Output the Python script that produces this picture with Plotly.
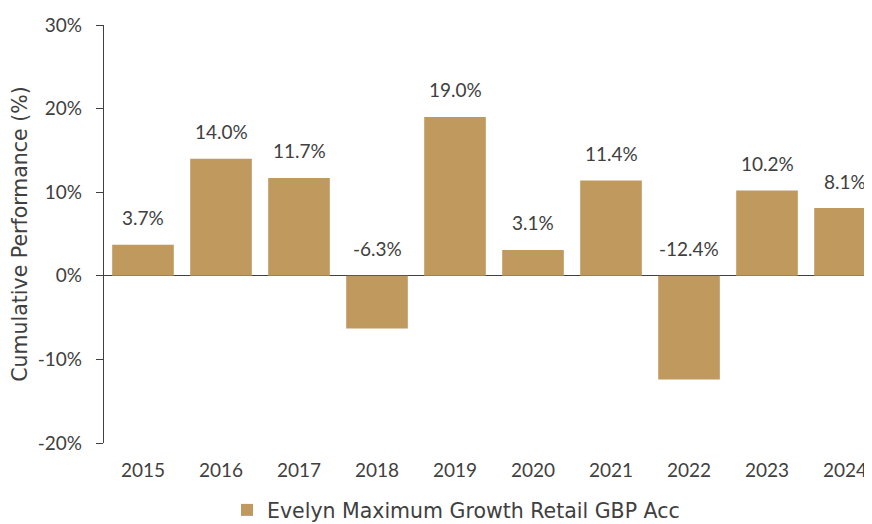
import plotly.graph_objects as go

years = ["2015", "2016", "2017", "2018", "2019", "2020", "2021", "2022", "2023", "2024"]
values = [3.7, 14.0, 11.7, -6.3, 19.0, 3.1, 11.4, -12.4, 10.2, 8.1]
series_name = "Evelyn Maximum Growth Retail GBP Acc"
y_ticks = [-20, -10, 0, 10, 20, 30]

bar_color = "#BF995E"
text_color = "#404040"
num_font = "Lato, 'Open Sans', sans-serif"
word_font = "'DejaVu Sans', sans-serif"

fig = go.Figure()
fig.add_trace(go.Bar(
    x=years, y=values, name=series_name,
    marker=dict(color=bar_color, line=dict(width=0)),
    width=0.79, showlegend=True,
))

for i, v in enumerate(values):
    fig.add_annotation(
        x=i, y=max(v, 0), xref="x", yref="y", text=f"{v:.1f}%", showarrow=False,
        xanchor="center", yanchor="middle", yshift=27,
        font=dict(size=19, color=text_color, family=num_font),
    )

fig.update_layout(
    width=864, height=516,
    margin=dict(l=96, r=0, t=17, b=81, autoexpand=False),
    paper_bgcolor="white", plot_bgcolor="white",
    font=dict(family=num_font, size=19, color=text_color),
    bargap=0.21,
    legend=dict(orientation="h", x=0.5185, xanchor="center", xref="container",
                y=0.027, yanchor="middle", yref="container",
                font=dict(size=20.5, color=text_color, family=word_font), itemwidth=30),
    xaxis=dict(type="category", range=[-0.5, 9.346], showline=False, ticks="",
               showgrid=False, tickfont=dict(size=19), automargin=False,
               ticklabelstandoff=14),
    yaxis=dict(range=[-20, 30], tickvals=y_ticks, ticktext=[f"{t}%" for t in y_ticks],
               showgrid=False, showline=True, linecolor="#404040", linewidth=1.3,
               ticks="outside", ticklen=7, tickcolor="#404040", automargin=False,
               ticklabelstandoff=10,
               zeroline=True, zerolinecolor="#404040", zerolinewidth=1.3,
               title=dict(text="Cumulative Performance (%)",
                          font=dict(size=20.5, family=word_font), standoff=16),
               tickfont=dict(size=19)),
)

fig.write_html("out.html")
